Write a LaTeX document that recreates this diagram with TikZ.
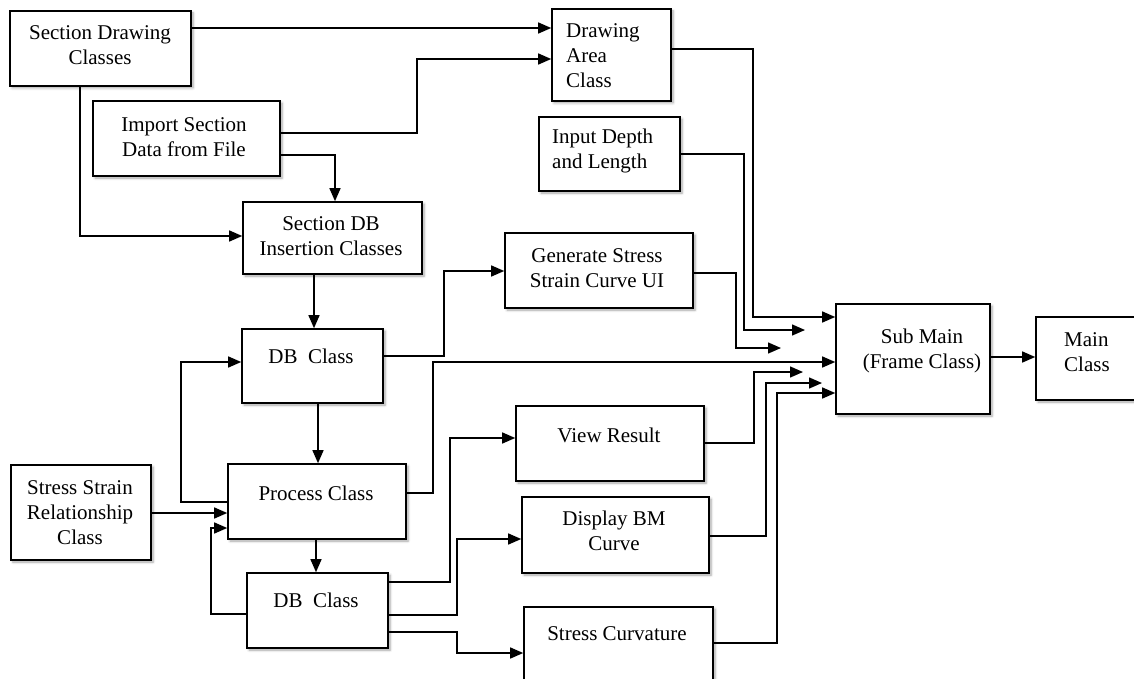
\documentclass[tikz,border=0pt]{standalone}
\usepackage{fontspec}
\setmainfont{Liberation Serif}
\usetikzlibrary{arrows.meta,fit,shadows.blur}

\tikzset{
  blk/.style={draw, line width=1.6pt, fill=white, inner sep=0pt,
    blur shadow={shadow xshift=2pt, shadow yshift=-2pt, shadow blur radius=2.5pt,
      shadow blur steps=6, shadow opacity=35}},
  txt/.style={font=\fontsize{21}{25}\selectfont, align=center, inner sep=0pt},
  ltxt/.style={txt, align=left},
  conn/.style={line width=1.4pt, -{Triangle[length=13pt,width=11pt]}},
}

% box with corners (x1,y1) and (x2,y2), y counted downwards
\newcommand\mkbox[5]{\node[blk, fit={(#2,#3) (#4,#5)}] (#1) {};}

\begin{document}
\begin{tikzpicture}[x=1pt, y=-1pt]
\useasboundingbox (0,0) rectangle (1134,679);
\clip (0,0) rectangle (1134,679);

% ---------- blocks ----------
\mkbox{sdc}{10}{11}{191}{86}
\mkbox{isd}{93}{101}{280}{176}
\mkbox{dac}{552}{9}{671}{101}
\mkbox{idl}{539}{117}{680}{191}
\mkbox{sdb}{243}{202}{422}{274}
\mkbox{gss}{505}{233}{693}{308}
\mkbox{dbA}{242}{329}{383}{403}
\mkbox{proc}{228}{464}{406}{539}
\mkbox{ssr}{11}{465}{151}{560}
\mkbox{dbB}{247}{573}{388}{648}
\mkbox{vr}{516}{406}{704}{481}
\mkbox{dbm}{522}{497}{709}{573}
\mkbox{sc}{524}{607}{713}{700}
\mkbox{sm}{836}{304}{990}{414}
\mkbox{mc}{1036}{317}{1145}{400}

% ---------- labels ----------
\node[txt] (sdc-t) at (100,45) {Section Drawing\\Classes};
\node[txt] (isd-t) at (184,137) {Import Section\\Data from File};
\node[ltxt, anchor=west] (dac-t) at (566,56) {Drawing\\Area\\Class};
\node[ltxt, anchor=west] (idl-t) at (552,151) {Input Depth\\and Length};
\node[txt] (sdb-t) at (331,236) {Section DB\\Insertion Classes};
\node[txt] (gss-t) at (597,268) {Generate Stress\\Strain Curve UI};
\node[txt] (dbA-t) at (311,356) {DB\ \ Class};
\node[txt] (proc-t) at (316,493) {Process Class};
\node[txt] (ssr-t) at (80,513) {Stress Strain\\Relationship\\Class};
\node[txt] (dbB-t) at (316,600) {DB\ \ Class};
\node[txt] (vr-t) at (609,435) {View\ Result};
\node[txt] (dbm-t) at (614,531) {Display BM\\Curve};
\node[txt] (sc-t) at (617,634) {Stress Curvature};
\node[txt] (sm-t) at (922,351) {Sub Main\\(Frame Class)};
\node[ltxt, anchor=west] (mc-t) at (1064,352) {Main\\Class};

% ---------- free ends near Sub Main ----------
\coordinate (e1) at (805,330);
\coordinate (e2) at (781,348);
\coordinate (e3) at (803,372);
\coordinate (e4) at (822,383);

% ---------- connectors ----------
\draw[conn] (sdc.east |- 0,28) -- (dac.west |- 0,28);
\draw[conn] (isd.east |- 0,133) -- (417,133) -- (417,59) -- (dac.west |- 0,59);
\draw[conn] (isd.east |- 0,155) -- (335,155) -- (sdb.north -| 335,0);
\draw[conn] (sdc.south -| 80,0) -- (80,236) -- (sdb.west |- 0,236);
\draw[conn] (sdb.south -| 314,0) -- (dbA.north -| 314,0);
\draw[conn] (dbA.east |- 0,356) -- (444,356) -- (444,271) -- (gss.west |- 0,271);
\draw[conn] (dbA.south -| 318,0) -- (proc.north -| 318,0);
\draw[conn] (proc.west |- 0,502) -- (181,502) -- (181,362) -- (dbA.west |- 0,362);
\draw[conn] (ssr.east |- 0,513) -- (proc.west |- 0,513);
\draw[conn] (proc.south -| 316,0) -- (dbB.north -| 316,0);
\draw[conn] (dbB.west |- 0,614) -- (211,614) -- (211,528) -- (proc.west |- 0,528);
\draw[conn] (dbB.east |- 0,582) -- (450,582) -- (450,438) -- (vr.west |- 0,438);
\draw[conn] (dbB.east |- 0,615) -- (457,615) -- (457,539) -- (dbm.west |- 0,539);
\draw[conn] (dbB.east |- 0,632) -- (457,632) -- (457,653) -- (sc.west |- 0,653);

\draw[conn] (dac.east |- 0,49) -- (753,49) -- (753,317) -- (sm.west |- 0,317);
\draw[conn] (idl.east |- 0,154) -- (744,154) -- (744,330) -- (e1);
\draw[conn] (gss.east |- 0,273) -- (736,273) -- (736,348) -- (e2);
\draw[conn] (proc.east |- 0,493) -- (433,493) -- (433,362) -- (sm.west |- 0,362);
\draw[conn] (vr.east |- 0,443) -- (754,443) -- (754,372) -- (e3);
\draw[conn] (dbm.east |- 0,536) -- (766,536) -- (766,383) -- (e4);
\draw[conn] (sc.east |- 0,643) -- (777,643) -- (777,393) -- (sm.west |- 0,393);
\draw[conn] (sm.east |- 0,357) -- (mc.west |- 0,357);
\end{tikzpicture}
\end{document}
